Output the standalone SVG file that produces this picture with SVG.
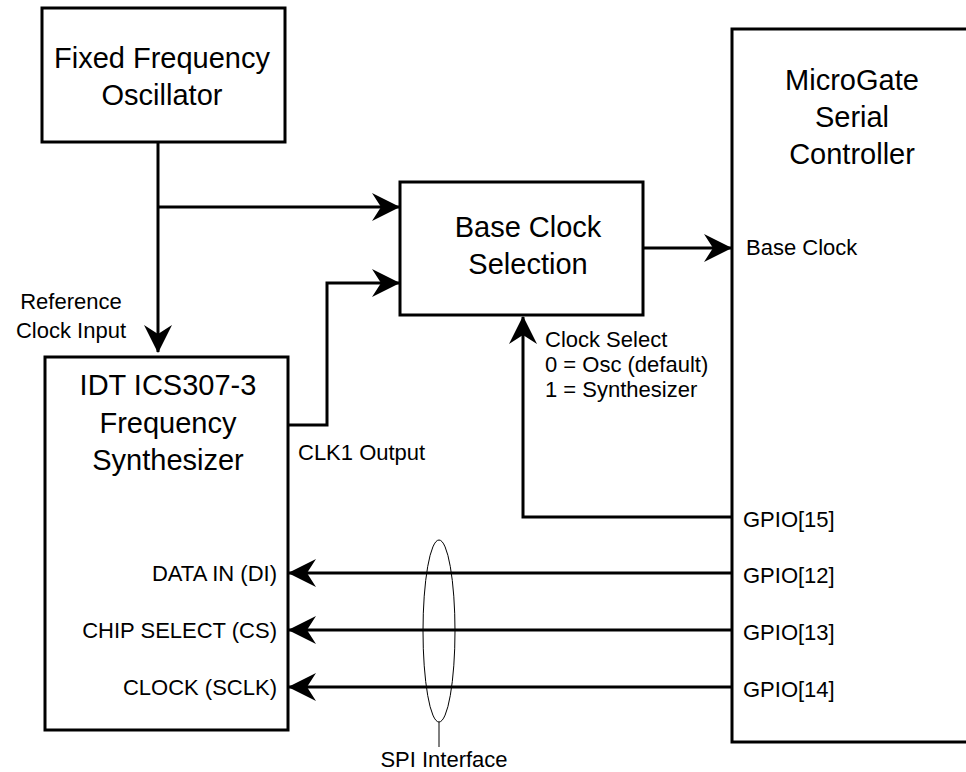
<svg xmlns="http://www.w3.org/2000/svg" width="966" height="772" viewBox="0 0 966 772">
<defs>
<marker id="ah" viewBox="0 0 28 28" refX="27" refY="14" markerWidth="28" markerHeight="28" markerUnits="userSpaceOnUse" orient="auto">
<path d="M0,0 L28,14 L0,28 L9,14 Z" fill="#000"/>
</marker>
<style>
.box{fill:#fff;stroke:#000;stroke-width:3}
.big{font-family:"Liberation Sans",Arial,sans-serif;font-size:29px;fill:#000;text-anchor:middle}
.sm{font-family:"Liberation Sans",Arial,sans-serif;font-size:22px;fill:#000}
.wire{fill:none;stroke:#000;stroke-width:3}
.thin{fill:none;stroke:#000;stroke-width:1}
</style>
</defs>
<rect width="966" height="772" fill="#fff"/>
<g id="connectors">
<path class="wire" d="M158,142 V352" marker-end="url(#ah)"/>
<path class="wire" d="M158,207 H399" marker-end="url(#ah)"/>
<path class="wire" d="M288,425 H327 V283 H399" marker-end="url(#ah)"/>
<path class="wire" d="M643,248 H731" marker-end="url(#ah)"/>
<path class="wire" d="M732,517 H523 V317" marker-end="url(#ah)"/>
<path class="wire" d="M732,573 H289" marker-end="url(#ah)"/>
<path class="wire" d="M732,630 H289" marker-end="url(#ah)"/>
<path class="wire" d="M732,687 H289" marker-end="url(#ah)"/>
</g>
<g id="osc">
<rect class="box" x="42" y="8" width="243" height="134"/>
<text class="big" x="162" y="68">Fixed Frequency</text>
<text class="big" x="162" y="105">Oscillator</text>
</g>
<g id="baseclock">
<rect class="box" x="400" y="182" width="243" height="133"/>
<text class="big" x="528" y="237">Base Clock</text>
<text class="big" x="528" y="274">Selection</text>
</g>
<g id="idt">
<rect class="box" x="45" y="357" width="243" height="373"/>
<text class="big" x="168" y="395">IDT ICS307-3</text>
<text class="big" x="168" y="433">Frequency</text>
<text class="big" x="168" y="470">Synthesizer</text>
<text class="sm" x="277" y="581" text-anchor="end">DATA IN (DI)</text>
<text class="sm" x="277" y="638" text-anchor="end">CHIP SELECT (CS)</text>
<text class="sm" x="277" y="695" text-anchor="end">CLOCK (SCLK)</text>
</g>
<g id="controller">
<rect class="box" x="732" y="29" width="250" height="713"/>
<text class="big" x="852" y="90">MicroGate</text>
<text class="big" x="852" y="127">Serial</text>
<text class="big" x="852" y="164">Controller</text>
<text class="sm" x="746" y="255">Base Clock</text>
<text class="sm" x="743" y="527">GPIO[15]</text>
<text class="sm" x="743" y="583">GPIO[12]</text>
<text class="sm" x="743" y="640">GPIO[13]</text>
<text class="sm" x="743" y="697">GPIO[14]</text>
</g>
<g id="labels">
<text class="sm" x="71" y="309" text-anchor="middle">Reference</text>
<text class="sm" x="71" y="338" text-anchor="middle">Clock Input</text>
<text class="sm" x="298" y="460">CLK1 Output</text>
<text class="sm" x="545" y="347">Clock Select</text>
<text class="sm" x="545" y="372">0 = Osc (default)</text>
<text class="sm" x="545" y="397">1 = Synthesizer</text>
</g>
<g id="spi">
<ellipse class="thin" cx="439" cy="631" rx="16" ry="91"/>
<line class="thin" x1="439" y1="722" x2="439" y2="747"/>
<text class="sm" x="444" y="767" text-anchor="middle">SPI Interface</text>
</g>
</svg>
